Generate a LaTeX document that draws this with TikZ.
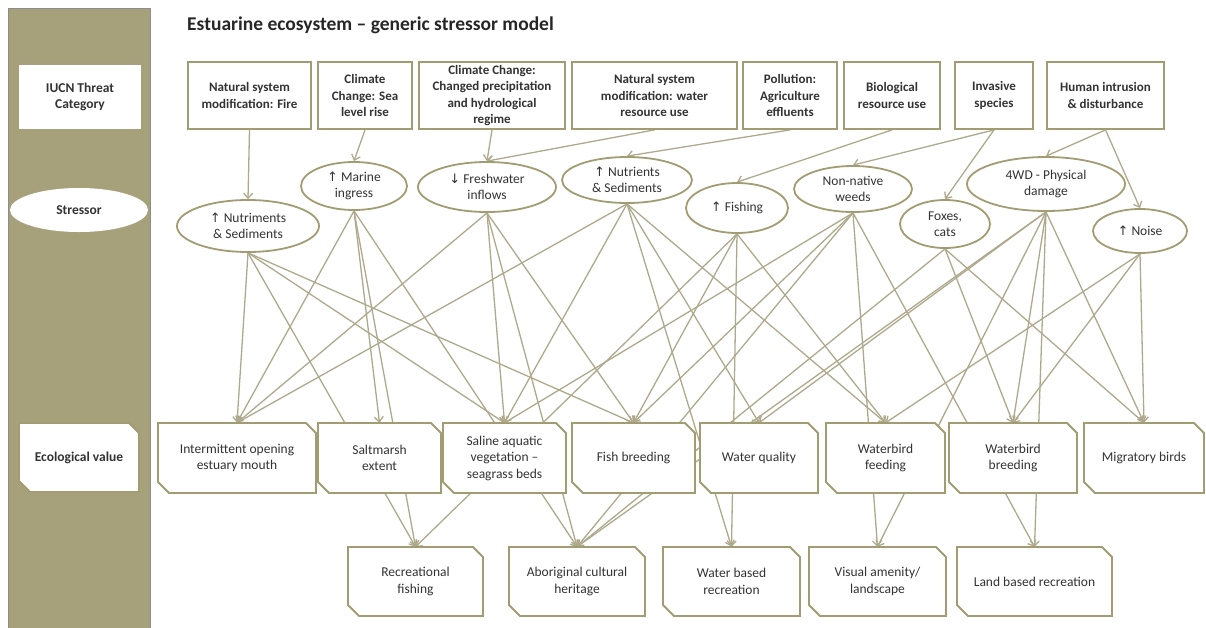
\documentclass[tikz,border=0pt]{standalone}
\usepackage{fontspec}
\setmainfont{Carlito}
\newfontfamily\arrowfont{DejaVu Sans}
\usetikzlibrary{shapes.geometric,arrows.meta}
\definecolor{sidebar}{HTML}{A7A17B}
\definecolor{frame}{HTML}{A29C73}
\definecolor{link}{HTML}{AEA98C}
\definecolor{ink}{HTML}{333333}
\pgfdeclarelayer{links}
\pgfsetlayers{links,main}

% box with the north-east and south-west corners cut off
\newcommand\chambox[7][]{%
  \filldraw[boxline] (#3,#4) -- ({#5-10},#4) -- (#5,{#4+10}) -- (#5,#6) -- ({#3+11},#6) -- (#3,{#6-11}) -- cycle;
  \node[boxtext,#1, minimum width={(#5-#3)*1pt}, minimum height={(#6-#4)*1pt}] (#2) at ({(#3+#5)/2},{(#4+#6)/2}) {#7};
}
\newcommand\threatbox[6]{%
  \node[threat, minimum width={(#4-#2)*1pt}, minimum height={(#5-#3)*1pt}] (#1) at ({(#2+#4)/2},{(#3+#5)/2}) {#6};
}
\newcommand\stressnode[6]{%
  \node[stressor, minimum width={2*#4*1pt}, minimum height={2*#5*1pt}] (#1) at (#2,#3) {#6};
}
\newcommand\upa{{\arrowfont\fontsize{13}{12}\selectfont ↑}}
\newcommand\downa{{\arrowfont\fontsize{13}{12}\selectfont ↓}}

\begin{document}
\begin{tikzpicture}[x=1pt,y=-1pt,
  boxline/.style={draw=frame, fill=white, line width=1.8pt, line join=miter},
  boxtext/.style={inner sep=0pt, align=center, text=ink, font=\fontsize{13.5}{16.5}\selectfont},
  threat/.style={draw=frame, fill=white, line width=1.8pt, rectangle, inner sep=0pt, align=center, text=ink, font=\bfseries\fontsize{13}{16.5}\selectfont},
  stressor/.style={draw=frame, fill=white, line width=1.8pt, ellipse, inner sep=0pt, align=center, text=ink, font=\fontsize{13.5}{16.5}\selectfont},
  conn/.style={draw=link, line width=1.3pt, -{Straight Barb[length=5pt,width=9pt]}},
  lane/.style={font=\bfseries\fontsize{13.5}{16.5}\selectfont, text=ink, align=center}]
\useasboundingbox (0,0) rectangle (1206,627);

% side band with the row labels
\fill[sidebar] (8,8) rectangle (150,640);
\draw[black!45, line width=0.8pt] (8,640) -- (8,8) -- (150,8) -- (150,640);
\node[lane, fill=white, minimum width=122pt, minimum height=64pt, inner sep=0pt] (laneThreat) at (80,97) {IUCN Threat\\Category};
\node[lane, fill=white, ellipse, minimum width=138pt, minimum height=44pt, inner sep=0pt] (laneStress) at (79,210) {Stressor};
\chambox[font=\bfseries\fontsize{13.5}{16.5}\selectfont]{laneValue}{19}{423}{139}{492}{Ecological value}

% title
\node[anchor=west, inner sep=0pt, font=\bfseries\fontsize{19.5}{22}\selectfont, text=black!85] (title) at (187,25) {Estuarine ecosystem – generic stressor model};

% IUCN threat categories
\threatbox{fire}{188}{62}{311}{129}{Natural system\\modification: Fire}
\threatbox{sea}{318}{62}{412}{129}{Climate\\Change: Sea\\level rise}
\threatbox{precip}{419}{62}{565}{129}{Climate Change:\\Changed precipitation\\and hydrological\\regime}
\threatbox{water}{572}{62}{737}{129}{Natural system\\modification: water\\resource use}
\threatbox{pollution}{743}{62}{837}{129}{Pollution:\\Agriculture\\effluents}
\threatbox{bio}{844}{62}{940}{129}{Biological\\resource use}
\threatbox{invasive}{955}{62}{1033}{129}{Invasive\\species}
\threatbox{human}{1047}{62}{1164}{129}{Human intrusion\\\& disturbance}

% stressors
\stressnode{nutriments}{248}{226}{71}{26}{\upa\ Nutriments\\\& Sediments}
\stressnode{marine}{354}{186}{53}{24}{\upa\ Marine\\ingress}
\stressnode{fresh}{487}{187}{69}{25}{\downa\ Freshwater\\inflows}
\stressnode{nutrients}{627}{180}{65}{23}{\upa\ Nutrients\\\& Sediments}
\stressnode{fishing}{737}{208}{51}{25}{\upa\ Fishing}
\stressnode{weeds}{853}{189}{59}{23}{Non-native\\weeds}
\stressnode{foxes}{945}{224}{45}{24}{Foxes,\\cats}
\stressnode{offroad}{1046}{184}{79}{27}{4WD - Physical\\damage}
\stressnode{noise}{1140}{231}{47}{22}{\upa\ Noise}

% ecological values
\chambox{intermittent}{158}{423}{316}{493}{Intermittent opening\\estuary mouth}
\chambox{saltmarsh}{318}{423}{441}{493}{Saltmarsh\\extent}
\chambox{saline}{443}{423}{566}{493}{Saline aquatic\\vegetation –\\seagrass beds}
\chambox{fishbreed}{572}{423}{695}{493}{Fish breeding}
\chambox{waterq}{700}{423}{818}{493}{Water quality}
\chambox{feeding}{826}{423}{945}{493}{Waterbird\\feeding}
\chambox{breeding}{949}{423}{1077}{493}{Waterbird\\breeding}
\chambox{migratory}{1084}{423}{1204}{493}{Migratory birds}

% uses of the estuary
\chambox{recfish}{348}{547}{483}{616}{Recreational\\fishing}
\chambox{aboriginal}{509}{547}{645}{616}{Aboriginal cultural\\heritage}
\chambox{wbr}{663}{547}{800}{616}{Water based\\recreation}
\chambox{visual}{809}{547}{946}{616}{Visual amenity/\\landscape}
\chambox{land}{957}{547}{1112}{616}{Land based recreation}

\begin{pgfonlayer}{links}
  % threat -> stressor
  \foreach \s/\t in {fire/nutriments, sea/marine, precip/fresh, water/fresh,
      pollution/nutrients, bio/fishing, invasive/weeds, invasive/foxes,
      human/offroad, human/noise}
    \draw[conn] (\s.south) -- (\t.north);
  % stressor -> value or use
  \foreach \s/\t in {
      nutriments/intermittent, nutriments/saline, nutriments/fishbreed, nutriments/recfish,
      marine/intermittent, marine/saltmarsh, marine/recfish, marine/aboriginal,
      fresh/intermittent, fresh/saline, fresh/fishbreed, fresh/aboriginal,
      nutrients/intermittent, nutrients/saline, nutrients/waterq, nutrients/feeding, nutrients/wbr,
      fishing/fishbreed, fishing/feeding, fishing/recfish, fishing/wbr,
      weeds/saline, weeds/fishbreed, weeds/aboriginal, weeds/visual, weeds/land,
      foxes/breeding, foxes/migratory, foxes/aboriginal,
      offroad/waterq, offroad/breeding, offroad/migratory, offroad/aboriginal, offroad/visual, offroad/land,
      noise/feeding, noise/breeding, noise/migratory}
    \draw[conn] (\s.south) -- (\t.north);
\end{pgfonlayer}
\end{tikzpicture}
\end{document}
